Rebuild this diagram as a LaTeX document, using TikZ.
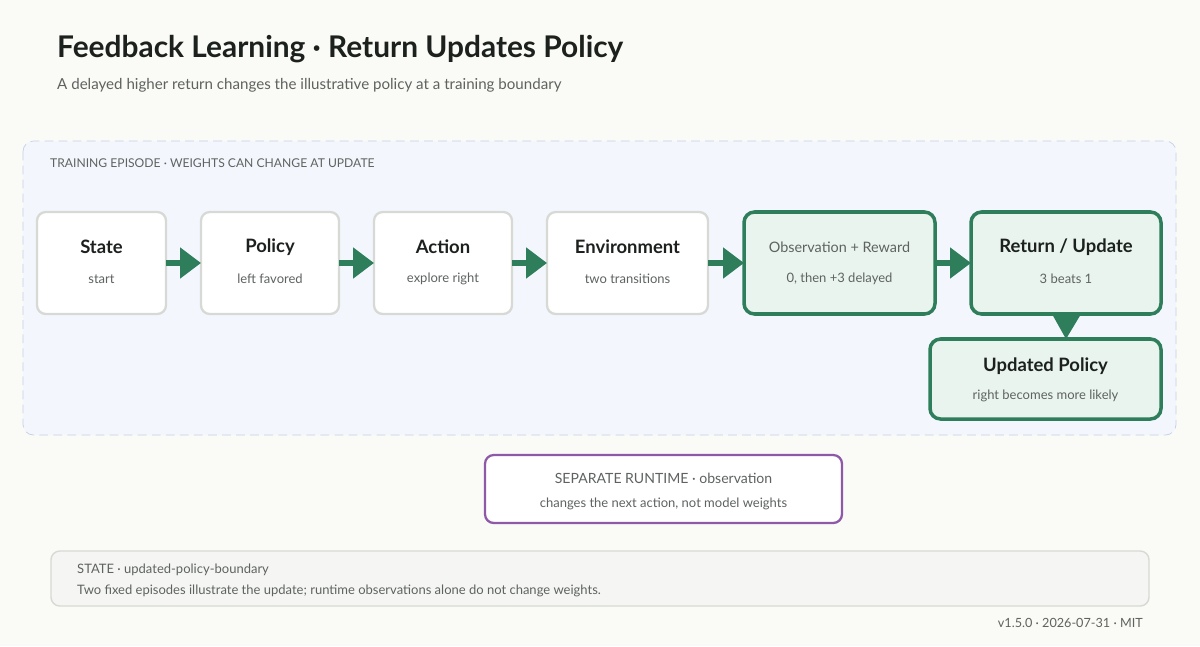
\documentclass[tikz,border=0pt]{standalone}
\usepackage{fontspec}
\setmainfont{Lato}
\usepackage{tikz}
\usetikzlibrary{positioning, arrows.meta}
\definecolor{bgpage}{HTML}{FAFAF6}
\definecolor{zonefill}{HTML}{F3F7FD}
\definecolor{zoneline}{HTML}{C5D0E4}
\definecolor{flowgreen}{HTML}{2E7D5B}
\definecolor{greenfill}{HTML}{EAF4EE}
\definecolor{boxline}{HTML}{D6D9D4}
\definecolor{footfill}{HTML}{F5F6F3}
\definecolor{inkdark}{HTML}{1C211E}
\definecolor{inkgrey}{HTML}{5E6360}
\definecolor{runpurple}{HTML}{8E5AA8}

\tikzset{
  plainbox/.style={draw=boxline, line width=1.3pt, fill=white, rounded corners=5pt},
  hotbox/.style={draw=flowgreen, line width=2pt, fill=greenfill, rounded corners=6pt},
  head/.style={font=\bfseries\fontsize{10.5}{12}\selectfont, text=inkdark},
  sub/.style={font=\fontsize{7.4}{9}\selectfont, text=inkgrey},
  flow/.style={flowgreen, line width=3pt, -{Triangle[length=0.42cm, width=0.6cm]}}
}

\begin{document}
\begin{tikzpicture}[x=0.02cm, y=-0.02cm]
% page
\fill[bgpage] (0,0) rectangle (1200,646);
\useasboundingbox (0,0) rectangle (1200,646);

% header
\node[anchor=west, font=\bfseries\fontsize{17}{20}\selectfont, text=inkdark] (title) at (51,49) {Feedback Learning · Return Updates Policy};
\node[anchor=west, font=\fontsize{8.6}{10}\selectfont, text=inkgrey] (subtitle) at (51,85) {A delayed higher return changes the illustrative policy at a training boundary};

% training zone
\draw[zoneline, fill=zonefill, dashed, dash pattern=on 5pt off 3pt, rounded corners=6pt] (23,141) rectangle (1176,435);
\node[anchor=west, font=\fontsize{6.9}{8}\selectfont, text=inkgrey] (zonelabel) at (44,163) {TRAINING EPISODE · WEIGHTS CAN CHANGE AT UPDATE};

% boxes
\draw[plainbox] (37,212) rectangle (166,314);
\draw[plainbox] (201,212) rectangle (339,314);
\draw[plainbox] (374,212) rectangle (512,314);
\draw[plainbox] (547,212) rectangle (708,314);
\draw[hotbox] (744,212) rectangle (935,314);
\draw[hotbox] (971,212) rectangle (1161,314);
\draw[hotbox] (930,339) rectangle (1161,419);

\node[head] at (101.5,247) {State};
\node[sub] at (101.5,279) {start};
\node[head] at (270,247) {Policy};
\node[sub] at (270,279) {left favored};
\node[head] at (443,247) {Action};
\node[sub] at (443,279) {explore right};
\node[head] at (627.5,247) {Environment};
\node[sub] at (627.5,279) {two transitions};
\node[sub, font=\fontsize{8.2}{10}\selectfont] at (839.5,247) {Observation + Reward};
\node[sub] at (839.5,279) {0, then +3 delayed};
\node[head] at (1066,247) {Return / Update};
\node[sub] at (1066,279) {3 beats 1};
\node[head] at (1045.5,366) {Updated Policy};
\node[sub] at (1045.5,396) {right becomes more likely};

% connectors
\coordinate (s) at (166,263); \coordinate (p) at (201,263);
\coordinate (p2) at (339,263); \coordinate (a) at (374,263);
\coordinate (a2) at (512,263); \coordinate (e) at (547,263);
\coordinate (e2) at (708,263); \coordinate (o) at (744,263);
\coordinate (o2) at (935,263); \coordinate (r) at (971,263);
\draw[flow] (s) -- (p);
\draw[flow] (p2) -- (a);
\draw[flow] (a2) -- (e);
\draw[flow] (e2) -- (o);
\draw[flow] (o2) -- (r);
\fill[flowgreen] (1052,314) -- (1081,314) -- (1066,339) -- cycle;

% runtime note
\draw[runpurple, line width=1.3pt, fill=white, rounded corners=5pt] (485,455) rectangle (842,523);
\node[font=\fontsize{8}{10}\selectfont, text=inkgrey] (runtime) at (663.5,478) {SEPARATE RUNTIME · observation};
\node[sub] (runsub) at (663.5,504) {changes the next action, not model weights};

% footer
\draw[boxline, line width=0.8pt, fill=footfill, rounded corners=5pt] (51,551) rectangle (1149,606);
\node[anchor=west, font=\fontsize{7.4}{9}\selectfont, text=inkgrey] (state) at (71,570) {STATE · updated-policy-boundary};
\node[anchor=west, font=\fontsize{7.4}{9}\selectfont, text=inkgrey] (note) at (71,591) {Two fixed episodes illustrate the update; runtime observations alone do not change weights.};
\node[anchor=east, font=\fontsize{7.2}{9}\selectfont, text=inkgrey] (version) at (1149,623) {v1.5.0 · 2026-07-31 · MIT};
\end{tikzpicture}
\end{document}
